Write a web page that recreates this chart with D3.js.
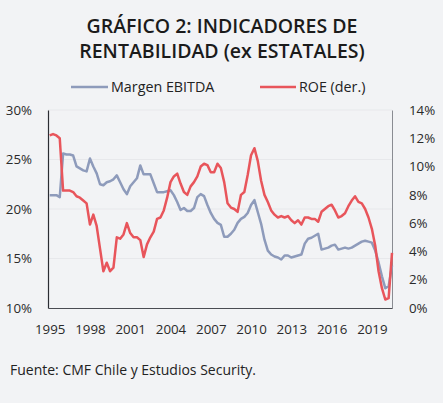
<!DOCTYPE html>
<html>
<head>
<meta charset="utf-8">
<script src="https://cdn.jsdelivr.net/npm/d3@7"></script>
<style>
  html, body { margin: 0; padding: 0; background: #f2f3f5; }
  svg { display: block; }
  text { font-family: "Open Sans", "Noto Sans", sans-serif; fill: #222; }
</style>
</head>
<body>
<svg id="chart" width="443" height="403"></svg>
<script>
// ---- Data (quarterly, 1995Q1 .. 2020Q3) ----
const yearLabels = ["1995","1998","2001","2004","2007","2010","2013","2016","2019"];
const margenEbitda = [
  21.4,21.4,21.4,21.2,25.6,25.5,25.5,25.4,24.3,24.1,
  23.9,23.8,25.1,24.3,23.6,22.5,22.4,22.7,22.8,23.0,
  23.4,22.7,22.0,21.5,22.3,22.7,23.1,24.4,23.5,23.5,
  23.5,22.6,21.7,21.7,21.7,21.8,21.9,21.4,20.7,19.9,
  20.1,19.8,19.8,20.1,21.2,21.5,21.3,20.4,19.6,19.0,
  18.6,18.4,17.2,17.2,17.5,17.9,18.6,19.0,19.2,19.6,
  20.4,20.9,19.7,18.5,16.9,15.8,15.4,15.2,15.1,14.9,
  15.3,15.3,15.1,15.2,15.3,15.4,16.5,17.0,17.1,17.3,
  17.5,15.9,16.0,16.1,16.3,16.4,15.9,16.0,16.1,16.0,
  16.1,16.3,16.5,16.7,16.8,16.7,16.6,15.8,14.6,13.2,
  12.0,12.2,14.3
];
const roe = [
  12.2,12.3,12.2,12.0,8.3,8.3,8.3,8.2,7.9,7.8,
  7.6,7.4,5.9,6.6,5.8,4.2,2.6,3.2,2.6,2.85,
  5.0,4.9,5.2,6.0,5.3,5.0,5.0,4.8,3.6,4.5,
  5.0,5.4,6.3,6.4,6.9,7.8,8.9,9.3,9.5,8.8,
  8.2,8.0,8.6,8.9,9.3,10.0,10.2,10.1,9.6,9.6,
  10.2,9.9,8.9,7.4,7.1,7.0,6.8,8.0,8.2,9.4,
  10.8,11.3,10.4,9.0,8.0,7.5,6.9,6.6,6.4,6.5,
  6.4,6.5,6.2,6.0,6.2,5.9,6.4,6.4,6.3,6.3,
  6.1,6.8,7.0,7.2,7.3,6.9,6.4,6.5,6.7,7.2,
  7.6,7.9,7.5,7.4,7.0,6.4,5.6,4.4,2.6,1.4,
  0.6,0.7,3.9
];
const leftTicks = [10, 15, 20, 25, 30];
const rightTicks = [0, 2, 4, 6, 8, 10, 12, 14];
const seriesNames = ["Margen EBITDA", "ROE (der.)"];
const colors = ["#8e9bbb", "#e8555b"];

// ---- Layout ----
const svg = d3.select("#chart");
const L = 48, R = 392, T = 110, B = 308;

const x = d3.scaleLinear().domain([-0.5, margenEbitda.length - 1]).range([L, R]);
const yL = d3.scaleLinear().domain([10, 30]).range([B, T]);
const yR = d3.scaleLinear().domain([0, 14]).range([B, T]);

// Title
const title = svg.append("g");
title.append("text").attr("x", 222).attr("y", 33).attr("text-anchor", "middle")
  .style("font-size", "19.5px").style("font-weight", 600).style("fill", "#1b1b1b")
  .text("GRÁFICO 2: INDICADORES DE");
title.append("text").attr("x", 222).attr("y", 58).attr("text-anchor", "middle")
  .style("font-size", "19.5px").style("font-weight", 600).style("fill", "#1b1b1b")
  .text("RENTABILIDAD (ex ESTATALES)");

// Legend
const legendItems = [
  { name: seriesNames[0], color: colors[0], x0: 71, x1: 108 },
  { name: seriesNames[1], color: colors[1], x0: 260, x1: 296 }
];
const lg = svg.append("g");
legendItems.forEach(d => {
  lg.append("line").attr("x1", d.x0).attr("x2", d.x1).attr("y1", 87).attr("y2", 87)
    .attr("stroke", d.color).attr("stroke-width", 2.5);
  lg.append("text").attr("x", d.x1 + 3).attr("y", 92)
    .style("font-size", "14.3px").style("fill", "#222").text(d.name);
});

// Gridlines
svg.append("g").selectAll("line").data(leftTicks.slice(1)).join("line")
  .attr("x1", L).attr("x2", R)
  .attr("y1", d => yL(d)).attr("y2", d => yL(d))
  .attr("stroke", "#e7e8eb").attr("stroke-width", 1);

// Axes
const axL = svg.append("g").attr("transform", `translate(${L},0)`)
  .call(d3.axisLeft(yL).tickValues(leftTicks).tickSize(0).tickPadding(16).tickFormat(d => d + "%"));
axL.select(".domain").attr("stroke", "#2b2d33").attr("stroke-width", 1.2);

const axR = svg.append("g").attr("transform", `translate(${R},0)`)
  .call(d3.axisRight(yR).tickValues(rightTicks).tickSize(0).tickPadding(17).tickFormat(d => d + "%"));
axR.select(".domain").attr("stroke", "#8a8c92").attr("stroke-width", 1);

const axB = svg.append("g").attr("transform", `translate(0,${B})`)
  .call(d3.axisBottom(x).tickValues(yearLabels.map((d, i) => i * 12)).tickSize(0).tickPadding(17)
    .tickFormat((d, i) => yearLabels[i]));
axB.select(".domain").attr("stroke", "#4a4c52").attr("stroke-width", 1.2);

[axL, axR, axB].forEach(a => a.selectAll("text")
  .style("font-size", "13.3px").style("fill", "#2a2a2a").style("font-family", "'Open Sans', sans-serif"));

// Lines
const lineL = d3.line().x((d, i) => x(i)).y(d => yL(d));
const lineR = d3.line().x((d, i) => x(i)).y(d => yR(d));
svg.append("path").datum(margenEbitda).attr("d", lineL)
  .attr("fill", "none").attr("stroke", colors[0]).attr("stroke-width", 2.5).attr("stroke-linejoin", "round");
svg.append("path").datum(roe).attr("d", lineR)
  .attr("fill", "none").attr("stroke", colors[1]).attr("stroke-width", 2.5).attr("stroke-linejoin", "round");

// Source
svg.append("text").attr("x", 10).attr("y", 375)
  .style("font-size", "14px").style("fill", "#222")
  .text("Fuente: CMF Chile y Estudios Security.");
</script>
</body>
</html>
